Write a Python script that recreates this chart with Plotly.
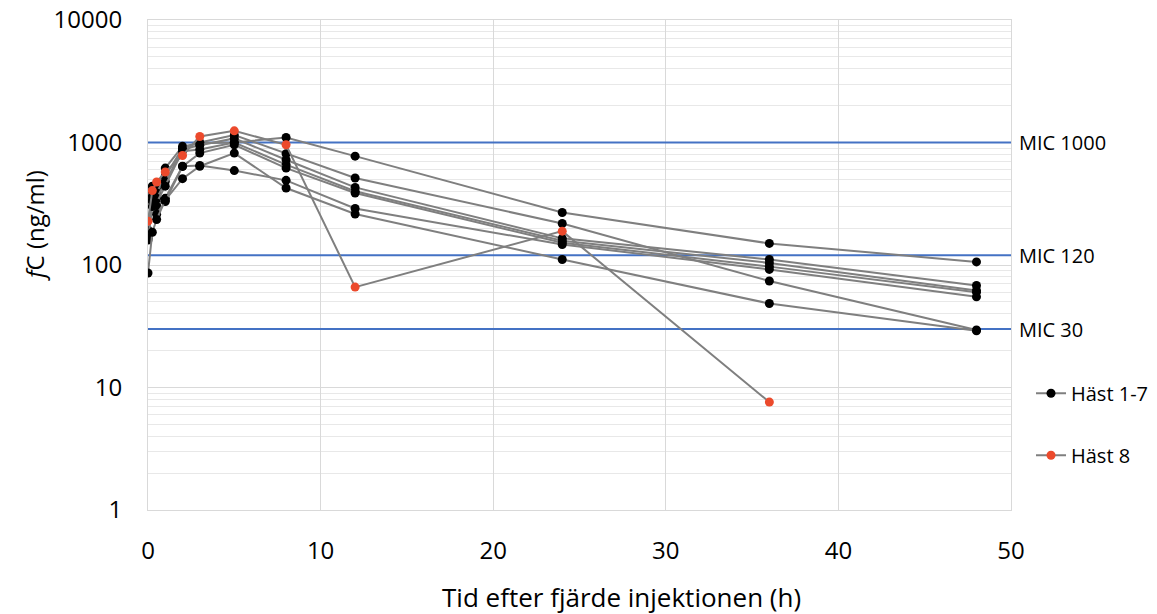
import math
import plotly.graph_objects as go

# --- data -------------------------------------------------------------
times = [0, 0.25, 0.5, 1, 2, 3, 5, 8, 12, 24, 36, 48]

horse1 = [193, 439, 420, 618, 930, 987, 1000, 1098, 774, 268, 150, 106]
horse2 = [180, 400, 387, 530, 900, 1000, 1150, 809, 513, 218, 74, 29.5]
horse3 = [170, 364, 350, 480, 880, 950, 1080, 723, 430, 165, 111, 68]
horse4 = [160, 340, 321, 440, 850, 877, 1000, 660, 400, 158, 104, 62]
horse5 = [190, 331, 300, 350, 638, 819, 958, 618, 387, 152, 97, 60]
horse6 = [165, 300, 260, 330, 640, 650, 590, 491, 289, 147, 92, 55]
horse7 = [86, 185, 235, 338, 507, 640, 819, 425, 261, 111, 48.5, 29]
black_horses = [horse1, horse2, horse3, horse4, horse5, horse6, horse7]

times8 = [0, 0.25, 0.5, 1, 2, 3, 5, 8, 12, 24, 36]
horse8 = [228, 405, 476, 574, 784, 1119, 1245, 958, 66, 189, 7.6]

mic_values = [1000, 120, 30]
mic_labels = ["MIC 1000", "MIC 120", "MIC 30"]

y_tickvals = [1, 10, 100, 1000, 10000]
y_ticktext = ["1", "10", "100", "1000", "10000"]
x_tickvals = [0, 10, 20, 30, 40, 50]

x_title = "Tid efter fjärde injektionen (h)"
y_title = "<i>f</i>C (ng/ml)"

FONT = "Open Sans"
LINE_GREY = "#7f7f7f"
RED = "#ec4a2c"
BLUE = "#4472c4"

fig = go.Figure()

# MIC reference lines
for v in mic_values:
    fig.add_trace(go.Scatter(
        x=[0, 50], y=[v, v], mode="lines",
        line=dict(color=BLUE, width=2), showlegend=False, hoverinfo="skip"))

for i, h in enumerate(black_horses):
    fig.add_trace(go.Scatter(
        x=times, y=h, mode="lines+markers",
        line=dict(color=LINE_GREY, width=2),
        marker=dict(color="black", size=9),
        name="Häst 1-7", legendgroup="black", showlegend=(i == 0)))

fig.add_trace(go.Scatter(
    x=times8, y=horse8, mode="lines+markers",
    line=dict(color=LINE_GREY, width=2),
    marker=dict(color=RED, size=9),
    name="Häst 8", legendgroup="red", showlegend=True))

for v, lab in zip(mic_values, mic_labels):
    fig.add_annotation(x=1, xref="paper", y=math.log10(v), yref="y", text=lab,
                       showarrow=False, xanchor="left", yanchor="middle",
                       xshift=6, font=dict(family=FONT, size=20, color="black"))

# axis titles (placed as in the reference)
fig.add_annotation(x=0.5486, y=-0.1776, xref="paper", yref="paper",
                   text=x_title, showarrow=False, xanchor="center",
                   yanchor="middle", font=dict(family=FONT, size=26, color="black"))
fig.add_annotation(x=-0.1308, y=0.58, xref="paper", yref="paper",
                   text=y_title, showarrow=False, textangle=-90,
                   xanchor="center", yanchor="middle",
                   font=dict(family=FONT, size=24, color="black"))

minor_vals = [m * 10 ** d for d in range(0, 4) for m in range(2, 10)]

fig.update_layout(
    width=1157, height=614,
    margin=dict(l=140, r=153, t=12, b=112),
    paper_bgcolor="white", plot_bgcolor="white",
    font=dict(family=FONT, size=24, color="black"),
    showlegend=True,
    legend=dict(x=1.022, y=0.278, xanchor="left", yanchor="top",
                font=dict(family=FONT, size=20, color="black"),
                tracegroupgap=33, bgcolor="rgba(0,0,0,0)"),
    xaxis=dict(range=[0, 50], tickvals=x_tickvals, showgrid=True,
               gridcolor="#d9d9d9", gridwidth=1, zeroline=False,
               showline=True, linecolor="#d9d9d9", mirror=True,
               automargin=False, ticklabeloverflow="allow",
               ticks="outside", ticklen=19, tickcolor="rgba(0,0,0,0)",
               tickfont=dict(family=FONT, size=24)),
    yaxis=dict(type="log", range=[0, 4], tickvals=y_tickvals,
               ticktext=y_ticktext, showgrid=True, gridcolor="#d9d9d9",
               gridwidth=1, zeroline=False,
               showline=True, linecolor="#d9d9d9", mirror=True,
               automargin=False, ticklabeloverflow="allow",
               ticks="outside", ticklen=20, tickcolor="rgba(0,0,0,0)",
               tickfont=dict(family=FONT, size=24),
               minor=dict(tickvals=minor_vals, showgrid=True,
                          gridcolor="#e8e8e8", gridwidth=1, ticks="")),
)

fig.write_html("out.html")
